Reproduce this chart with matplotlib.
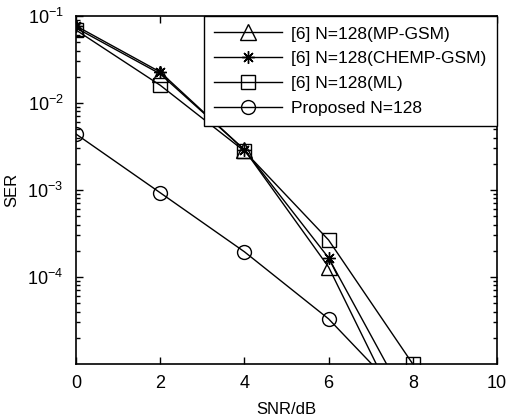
import math
import matplotlib
matplotlib.use("Agg")
import matplotlib.pyplot as plt
from matplotlib.ticker import LogLocator, NullFormatter, FixedLocator

plt.rcParams['font.family'] = ['Liberation Sans', 'DejaVu Sans']
plt.rcParams['mathtext.fontset'] = 'custom'
plt.rcParams['mathtext.rm'] = 'Liberation Sans'
plt.rcParams['mathtext.it'] = 'Liberation Sans:italic'
plt.rcParams['mathtext.bf'] = 'Liberation Sans:bold'

snr = [0, 2, 4, 6, 8]
ser_mp_gsm = [0.073, 0.0216, 0.0029, 1.3e-4, 1.4e-6]
ser_chemp_gsm = [0.077, 0.0227, 0.0029, 1.66e-4, 2.8e-6]
ser_ml = [0.069, 0.016, 0.0028, 2.66e-4, 1.0e-5]
ser_proposed = [0.0044, 9.3e-4, 1.95e-4, 3.3e-5, 3.2e-6]

labels = ['[6] N=128(MP-GSM)', '[6] N=128(CHEMP-GSM)', '[6] N=128(ML)', 'Proposed N=128']
xticks = [0, 2, 4, 6, 8, 10]
yticks = [1e-4, 1e-3, 1e-2, 1e-1]

fig = plt.figure(figsize=(5.13, 4.18), dpi=100)
ax = fig.add_axes([76/513, 1-364/418, (497-76)/513, (364-16)/418])

common = dict(color='black', lw=1.0, markerfacecolor='none', markeredgecolor='black', markeredgewidth=1.0)
ax.plot(snr, ser_mp_gsm, marker='^', markersize=11, label=labels[0], **common)
ax.plot(snr, ser_chemp_gsm, marker=(8, 2, 0), markersize=9, label=labels[1], **common)
ax.plot(snr, ser_ml, marker='s', markersize=10, label=labels[2], **common)
ax.plot(snr, ser_proposed, marker='o', markersize=10, label=labels[3], **common)

ax.set_yscale('log')
ax.set_xlim(0, 10)
ax.set_ylim(1e-5, 1e-1)
ax.set_xticks(xticks)
ax.set_xticklabels([str(t) for t in xticks])
ax.yaxis.set_major_locator(FixedLocator(yticks))
ax.set_yticklabels([r'$10^{%d}$' % int(round(math.log10(t))) for t in yticks])
ax.yaxis.set_minor_locator(LogLocator(base=10, subs=range(2, 10), numticks=20))
ax.yaxis.set_minor_formatter(NullFormatter())

ax.tick_params(axis='both', which='both', direction='in', top=True, right=True, width=1.0)
ax.tick_params(axis='both', which='major', length=5, labelsize=13)
ax.tick_params(axis='y', which='major', pad=9)
ax.tick_params(axis='x', which='major', pad=8)
ax.tick_params(axis='both', which='minor', length=3)
for s in ax.spines.values():
    s.set_linewidth(1.2)

ax.set_xlabel('SNR/dB', fontsize=12, labelpad=7)
ax.set_ylabel('SER', fontsize=12, labelpad=6)

leg = ax.legend(loc='upper right', borderaxespad=0, fontsize=12.5, handlelength=3.9,
                handletextpad=0.55, labelspacing=0.55, borderpad=0.6, fancybox=False,
                framealpha=1, edgecolor='black')
leg.get_frame().set_linewidth(1.0)

fig.savefig('out.png', dpi=100)
